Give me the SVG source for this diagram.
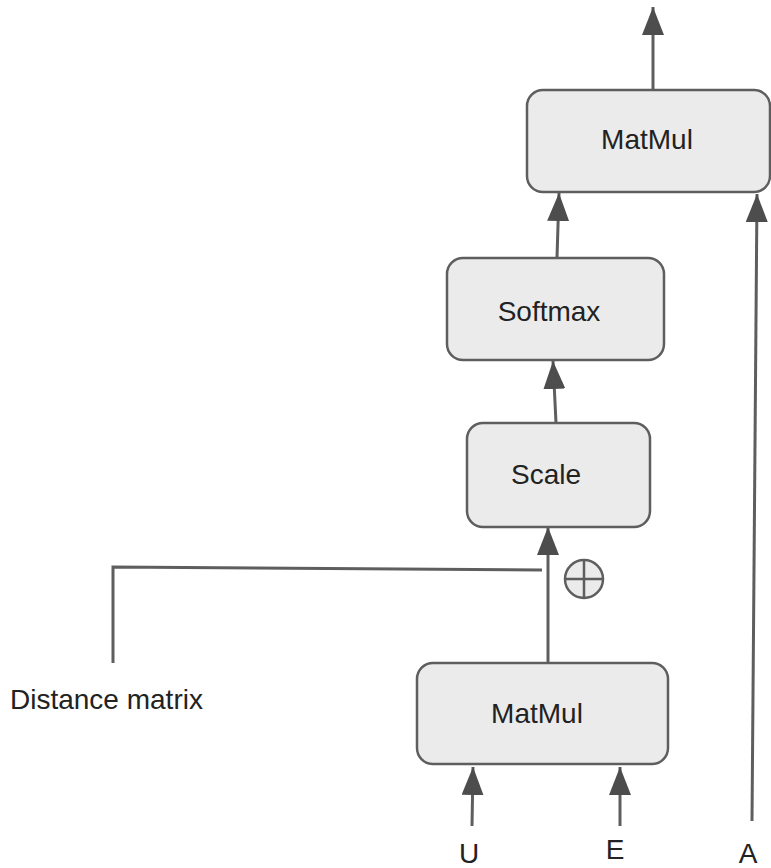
<svg xmlns="http://www.w3.org/2000/svg" width="771" height="868" viewBox="0 0 771 868">
<style>
.box{fill:#ebebeb;stroke:#5e5e5e;stroke-width:2.5}
.ln{fill:none;stroke:#5e5e5e;stroke-width:3}
.t{font-family:"Liberation Sans",Arial,sans-serif;font-size:28px;fill:#222}
.c{text-anchor:middle}
</style>
<defs>
<marker id="ah" markerUnits="userSpaceOnUse" markerWidth="28" markerHeight="22" refX="28" refY="11" orient="auto" viewBox="0 0 28 22">
<path d="M0,0 L28,11 L0,22 z" fill="#4d4d4d"/>
</marker>
</defs>
<rect width="771" height="868" fill="#fff"/>
<g id="connectors">
<line class="ln" x1="653" y1="90" x2="653" y2="7" marker-end="url(#ah)"/>
<line class="ln" x1="557" y1="258" x2="559" y2="193" marker-end="url(#ah)"/>
<line class="ln" x1="556" y1="423" x2="553" y2="361" marker-end="url(#ah)"/>
<line class="ln" x1="548" y1="663" x2="548" y2="527" marker-end="url(#ah)"/>
<polyline class="ln" points="113,663 113,567 542,570"/>
<line class="ln" x1="472" y1="826" x2="473" y2="767" marker-end="url(#ah)"/>
<line class="ln" x1="620" y1="826" x2="620" y2="767" marker-end="url(#ah)"/>
<line class="ln" x1="752" y1="821" x2="757" y2="194" marker-end="url(#ah)"/>
</g>
<g id="matmul-top">
<rect class="box" x="527" y="90" width="243" height="102" rx="16"/>
<text class="t c" x="647" y="149">MatMul</text>
</g>
<g id="softmax">
<rect class="box" x="447" y="258" width="217" height="102" rx="16"/>
<text class="t c" x="549" y="321">Softmax</text>
</g>
<g id="scale">
<rect class="box" x="467" y="423" width="183" height="104" rx="16"/>
<text class="t c" x="546" y="484">Scale</text>
</g>
<g id="matmul-bottom">
<rect class="box" x="417" y="663" width="251" height="101" rx="16"/>
<text class="t c" x="537" y="723">MatMul</text>
</g>
<g id="plus">
<circle cx="584" cy="579" r="19" fill="#ebebeb" stroke="#5e5e5e" stroke-width="2.5"/>
<line class="ln" x1="565" y1="579" x2="603" y2="579" style="stroke-width:2.5"/>
<line class="ln" x1="584" y1="560" x2="584" y2="598" style="stroke-width:2.5"/>
</g>
<g id="labels">
<text class="t" x="10" y="709">Distance matrix</text>
<text class="t c" x="469" y="863">U</text>
<text class="t c" x="615" y="859">E</text>
<text class="t c" x="748" y="863">A</text>
</g>
</svg>
